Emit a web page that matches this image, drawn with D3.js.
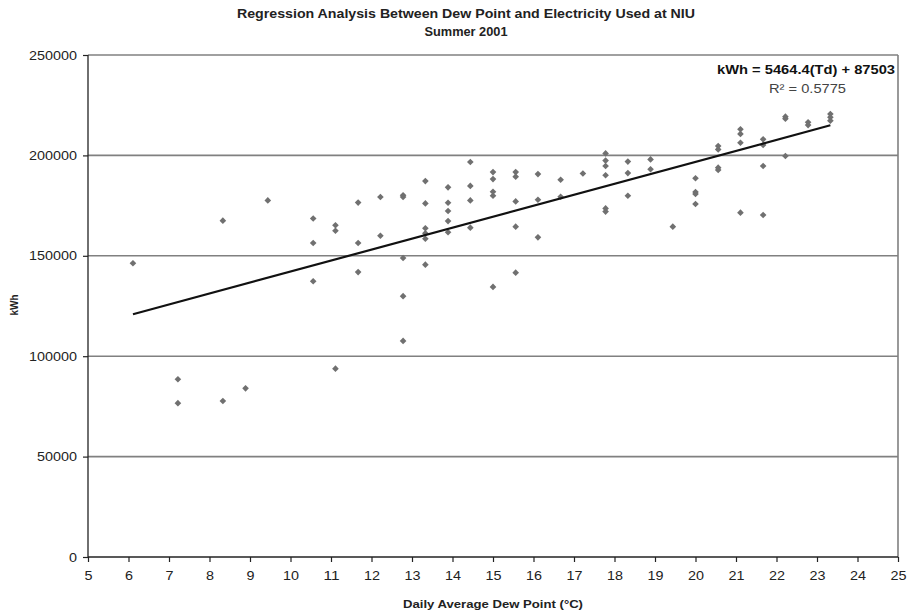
<!DOCTYPE html>
<html><head><meta charset="utf-8">
<script src="https://cdn.jsdelivr.net/npm/d3@7"></script>
<style>body{margin:0;background:#fff}svg{display:block}text{font-family:"Liberation Sans",Arial,sans-serif}</style>
</head><body><svg id="c" width="909" height="614"></svg>
<script>
const dewPoint = [6.11,7.22,7.22,8.33,8.33,8.89,9.44,10.56,10.56,10.56,11.11,11.11,11.11,11.67,11.67,11.67,12.22,12.22,
12.78,12.78,12.78,12.78,12.78,13.33,13.33,13.33,13.33,13.33,13.33,13.89,13.89,13.89,13.89,13.89,14.44,14.44,14.44,14.44,
15.00,15.00,15.00,15.00,15.00,15.56,15.56,15.56,15.56,15.56,16.11,16.11,16.11,16.67,16.67,17.22,
17.78,17.78,17.78,17.78,17.78,17.78,18.33,18.33,18.33,18.89,18.89,19.44,20.00,20.00,20.00,20.00,
20.56,20.56,20.56,20.56,21.11,21.11,21.11,21.11,21.67,21.67,21.67,21.67,22.22,22.22,22.22,22.78,22.78,23.33,23.33,23.33];
const kWh = [146300,88500,76600,167500,77700,84000,177600,168600,156400,137300,165200,162500,93800,176500,156400,141900,179300,160000,
180100,179300,148900,129900,107600,187200,176100,163700,161200,158500,145600,184100,176400,172300,167300,161700,196700,184800,177600,164000,
191700,188200,181900,179900,134500,191700,189400,177100,164500,141600,190700,177900,159200,187900,179400,191000,
201000,197400,194700,190100,173600,172000,196900,191200,179900,198000,193100,164500,188600,181800,180800,175800,
204700,203000,193900,192700,213000,210700,206300,171500,208000,205200,194700,170300,219300,218300,199700,216500,215100,220600,219000,217300];
const xTicks = [5,6,7,8,9,10,11,12,13,14,15,16,17,18,19,20,21,22,23,24,25];
const yTicks = [0,50000,100000,150000,200000,250000];
const trendCoef = [5464.4, 87503];
const titleLines = ["Regression Analysis Between Dew Point and Electricity Used at NIU","Summer 2001"];
const eqLines = ["kWh = 5464.4(Td) + 87503","R\u00B2 = 0.5775"];

const svg = d3.select("#c");
const L=88,R=898,T=55,B=557;
const x = d3.scaleLinear().domain([5,25]).range([L,R]);
const y = d3.scaleLinear().domain([0,250000]).range([B,T]);

// gridlines
svg.append("g").selectAll("line").data(yTicks.filter(d=>d>0)).join("line")
  .attr("x1",L).attr("x2",R).attr("y1",d=>y(d)).attr("y2",d=>y(d))
  .attr("stroke","#808080").attr("stroke-width",1.6);
// right border
svg.append("line").attr("x1",R).attr("x2",R).attr("y1",T).attr("y2",B).attr("stroke","#808080").attr("stroke-width",1.6);

// axes
const yAxis = svg.append("g").attr("transform",`translate(${L},0)`)
  .call(d3.axisLeft(y).tickValues(yTicks).tickSize(5).tickPadding(6).tickFormat(d3.format("d")));
const xAxis = svg.append("g").attr("transform",`translate(0,${B})`)
  .call(d3.axisBottom(x).tickValues(xTicks).tickSize(5).tickPadding(9).tickFormat(d3.format("d")));
[yAxis,xAxis].forEach(a=>{
  a.select(".domain").attr("stroke","#222").attr("stroke-width",1.3);
  a.selectAll(".tick line").attr("stroke","#222").attr("stroke-width",1.2);
  a.selectAll(".tick text").attr("font-size",13).attr("fill","#222").attr("font-family","'Liberation Sans',Arial,sans-serif")
    .attr("textLength",function(){return 8*this.textContent.length;}).attr("lengthAdjust","spacingAndGlyphs");
});
yAxis.select(".domain").attr("d",`M0,${T}V${B}`);
xAxis.select(".domain").attr("d",`M${L},0H${R}`);

// points
const sym = d3.symbol().type(d3.symbolSquare).size(22);
svg.append("g").selectAll("path").data(dewPoint.map((d,i)=>[d,kWh[i]])).join("path")
  .attr("d",sym).attr("transform",d=>`translate(${x(d[0])},${y(d[1])}) rotate(45)`)
  .attr("fill","#707070");

// trendline
const tx = d3.extent(dewPoint);
svg.append("line").attr("x1",x(tx[0])).attr("y1",y(trendCoef[0]*tx[0]+trendCoef[1]))
  .attr("x2",x(tx[1])).attr("y2",y(trendCoef[0]*tx[1]+trendCoef[1]))
  .attr("stroke","#111").attr("stroke-width",2.2);

// titles
svg.append("text").attr("x",466).attr("y",17.5).attr("text-anchor","middle").attr("font-weight","bold")
  .attr("font-size",12).attr("fill","#222").attr("textLength",458).attr("lengthAdjust","spacingAndGlyphs").text(titleLines[0]);
svg.append("text").attr("x",466).attr("y",36).attr("text-anchor","middle").attr("font-weight","bold")
  .attr("font-size",12).attr("fill","#222").attr("textLength",83).attr("lengthAdjust","spacingAndGlyphs").text(titleLines[1]);
svg.append("text").attr("x",895).attr("y",74).attr("text-anchor","end").attr("font-weight","bold")
  .attr("font-size",12.5).attr("fill","#111").attr("textLength",178).attr("lengthAdjust","spacingAndGlyphs").text(eqLines[0]);
svg.append("text").attr("x",846).attr("y",92.5).attr("text-anchor","end")
  .attr("font-size",13).attr("fill","#444").attr("textLength",77).attr("lengthAdjust","spacingAndGlyphs").text(eqLines[1]);
svg.append("text").attr("x",403).attr("y",608).attr("font-weight","bold")
  .attr("font-size",11.5).attr("fill","#222").attr("textLength",180).attr("lengthAdjust","spacingAndGlyphs").text("Daily Average Dew Point (\u00B0C)");
svg.append("text").attr("transform","translate(18,305) rotate(-90)").attr("text-anchor","middle").attr("font-weight","bold")
  .attr("font-size",10).attr("fill","#222").text("kWh");
</script></body></html>
